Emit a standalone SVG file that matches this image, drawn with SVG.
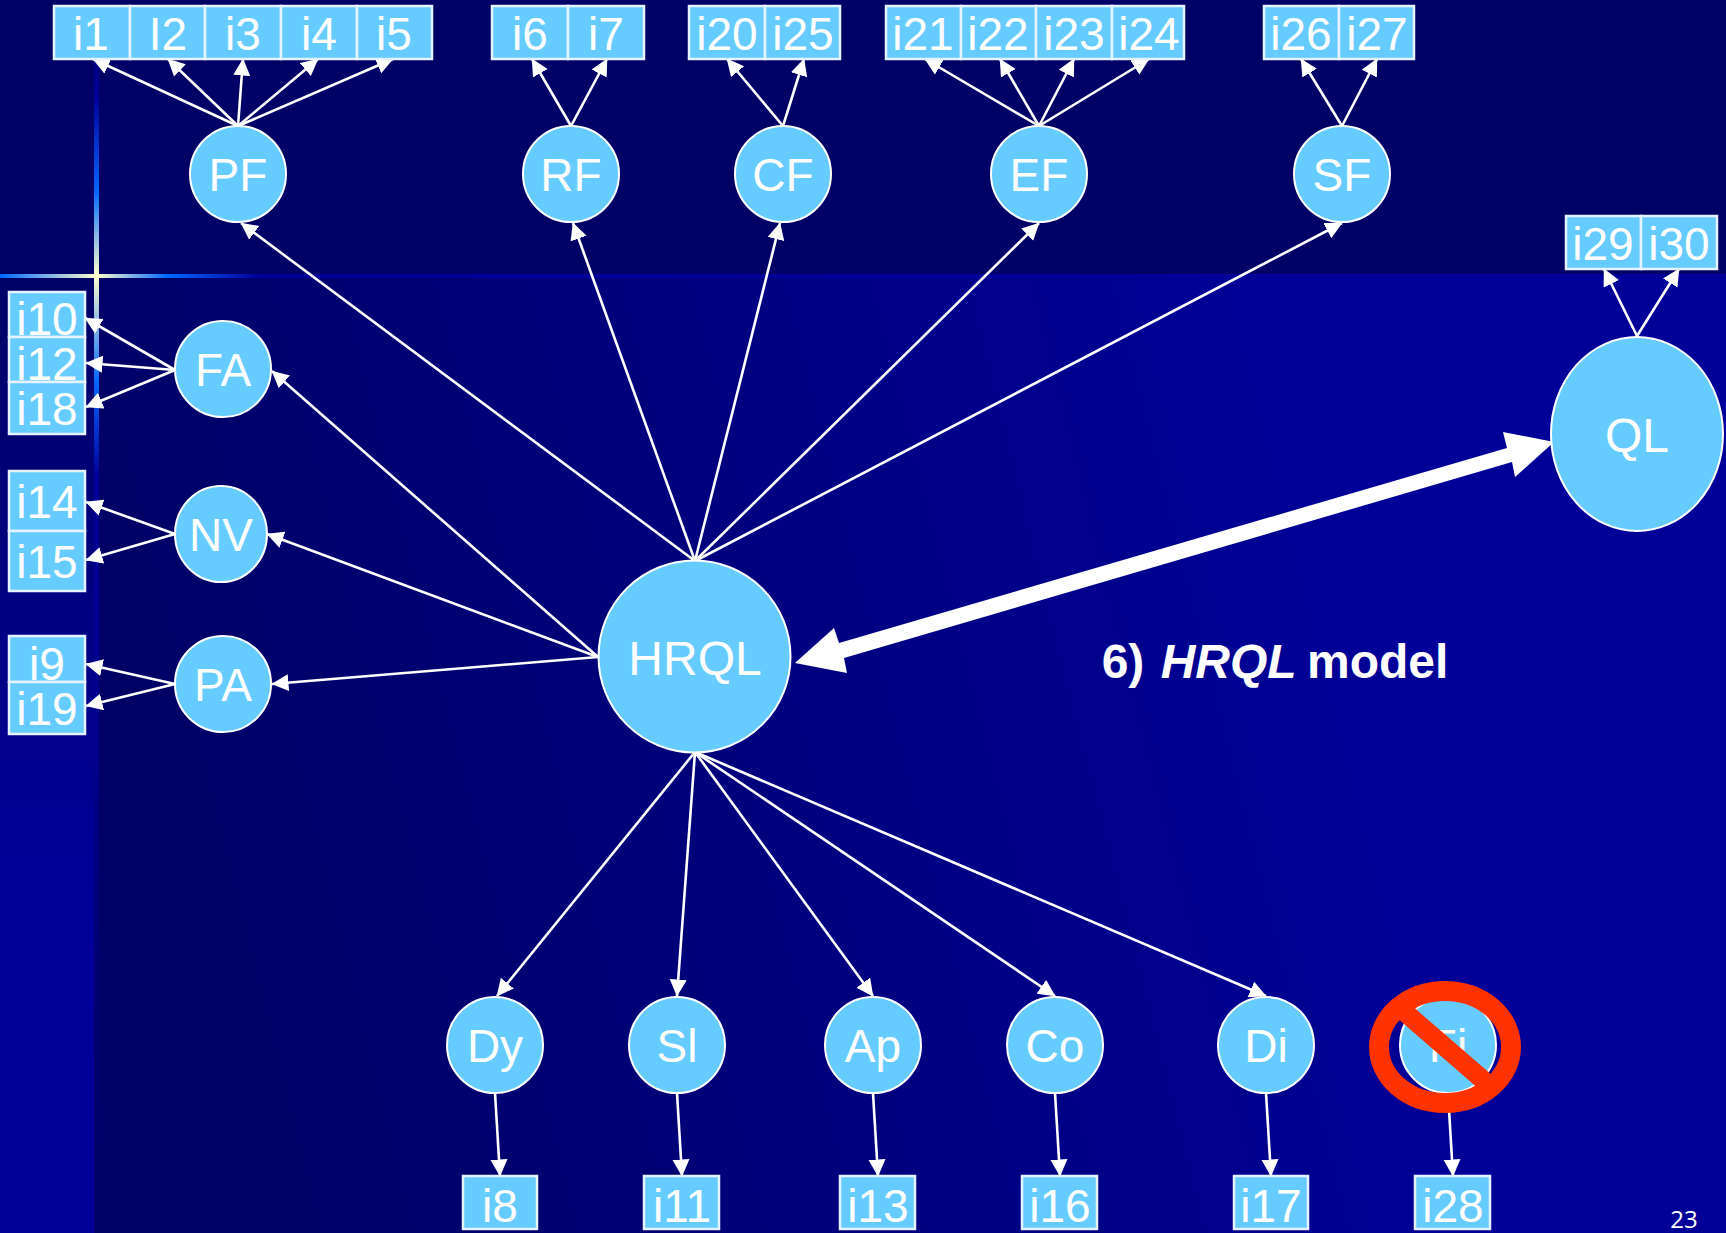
<svg xmlns="http://www.w3.org/2000/svg" width="1726" height="1233" viewBox="0 0 1726 1233">
<style>
.n{fill:#66ccff;stroke:#fff;stroke-width:2}
.b{fill:#66ccff;stroke:#e6f2ff;stroke-width:2.5}
text{font-family:"Liberation Sans",Arial,sans-serif;fill:#fff;text-anchor:middle}
.t{font-size:46px}
#connectors line{stroke:#fff;stroke-width:2.6;marker-end:url(#ah)}
</style>
<defs>
<marker id="ah" markerUnits="userSpaceOnUse" markerWidth="18" markerHeight="18" refX="16.5" refY="8.5" orient="auto"><path d="M0 0L17 8.5L0 17Z" fill="#fff"/></marker>
<linearGradient id="main" gradientUnits="userSpaceOnUse" x1="200" y1="900" x2="1400" y2="600"><stop offset="0" stop-color="#000066"/><stop offset="1" stop-color="#000099"/></linearGradient>
<linearGradient id="left" gradientUnits="userSpaceOnUse" x1="0" y1="278" x2="0" y2="900"><stop offset="0" stop-color="#000066"/><stop offset="1" stop-color="#000099"/></linearGradient>
<linearGradient id="vbar" gradientUnits="userSpaceOnUse" x1="0" y1="0" x2="0" y2="1233"><stop offset="0" stop-color="#000066"/><stop offset=".08" stop-color="#000099"/><stop offset=".155" stop-color="#0066ff"/><stop offset=".223" stop-color="#ffffcc"/><stop offset=".31" stop-color="#0066ff"/><stop offset=".385" stop-color="#000099"/><stop offset=".6" stop-color="#00008c"/><stop offset=".8" stop-color="#000070"/><stop offset="1" stop-color="#000066"/></linearGradient>
<linearGradient id="hbar" gradientUnits="userSpaceOnUse" x1="0" y1="0" x2="1726" y2="0"><stop offset="0" stop-color="#0066ff"/><stop offset=".056" stop-color="#ffffcc"/><stop offset=".097" stop-color="#0066ff"/><stop offset=".15" stop-color="#000099"/><stop offset="1" stop-color="#000099"/></linearGradient>
</defs>
<g id="background">
<rect x="0" y="0" width="1726" height="278" fill="#000066"/>
<rect x="0" y="278" width="94" height="955" fill="url(#left)"/>
<rect x="94" y="278" width="1632" height="955" fill="url(#main)"/>
<rect x="94" y="0" width="5" height="1233" fill="url(#vbar)"/>
<rect x="0" y="274" width="1726" height="4" fill="url(#hbar)"/>
</g>
<g id="connectors">
<line x1="238" y1="126" x2="93" y2="59"/><line x1="238" y1="126" x2="168" y2="59"/><line x1="238" y1="126" x2="243" y2="59"/><line x1="238" y1="126" x2="318" y2="59"/><line x1="238" y1="126" x2="393" y2="59"/>
<line x1="571" y1="126" x2="532" y2="59"/><line x1="571" y1="126" x2="607" y2="59"/>
<line x1="783" y1="126" x2="727" y2="59"/><line x1="783" y1="126" x2="804" y2="59"/>
<line x1="1039" y1="126" x2="925" y2="59"/><line x1="1039" y1="126" x2="1000" y2="59"/><line x1="1039" y1="126" x2="1074" y2="59"/><line x1="1039" y1="126" x2="1149" y2="59"/>
<line x1="1342" y1="126" x2="1301" y2="59"/><line x1="1342" y1="126" x2="1377" y2="59"/>
<line x1="1637" y1="336" x2="1604" y2="269"/><line x1="1637" y1="336" x2="1679" y2="269"/>
<line x1="175" y1="370" x2="85" y2="318"/><line x1="175" y1="370" x2="86" y2="363"/><line x1="175" y1="370" x2="86" y2="407"/>
<line x1="175" y1="534" x2="86" y2="502"/><line x1="175" y1="534" x2="86" y2="560"/>
<line x1="175" y1="684" x2="86" y2="664"/><line x1="175" y1="684" x2="86" y2="706"/>
<line x1="695" y1="561" x2="241" y2="223"/><line x1="695" y1="561" x2="573" y2="223"/><line x1="695" y1="561" x2="780" y2="223"/><line x1="695" y1="561" x2="1039" y2="223"/><line x1="695" y1="561" x2="1342" y2="223"/>
<line x1="598" y1="657" x2="272" y2="371"/><line x1="598" y1="657" x2="267" y2="534"/><line x1="598" y1="657" x2="272" y2="684"/>
<line x1="695" y1="752" x2="497" y2="996"/><line x1="695" y1="752" x2="677" y2="996"/><line x1="695" y1="752" x2="873" y2="996"/><line x1="695" y1="752" x2="1055" y2="996"/><line x1="695" y1="752" x2="1266" y2="996"/>
<line x1="495" y1="1093" x2="500" y2="1176"/><line x1="677" y1="1093" x2="682" y2="1176"/><line x1="873" y1="1093" x2="878" y2="1176"/><line x1="1055" y1="1093" x2="1060" y2="1176"/><line x1="1266" y1="1093" x2="1271" y2="1176"/><line x1="1448" y1="1093" x2="1453" y2="1176"/>
</g>
<g id="thick-arrow"><polygon fill="#fff" points="1554,442 1515,477 1512,462 844,658 847,673 795,663 834,628 839,643 1507,448 1503,432"/></g>
<g id="box-i1"><rect class="b" x="54" y="6" width="76" height="53"/><text class="t" x="91" y="50">i1</text></g>
<g id="box-I2"><rect class="b" x="130" y="6" width="75" height="53"/><text class="t" x="168" y="50">I2</text></g>
<g id="box-i3"><rect class="b" x="205" y="6" width="76" height="53"/><text class="t" x="243" y="50">i3</text></g>
<g id="box-i4"><rect class="b" x="281" y="6" width="76" height="53"/><text class="t" x="319" y="50">i4</text></g>
<g id="box-i5"><rect class="b" x="357" y="6" width="75" height="53"/><text class="t" x="394" y="50">i5</text></g>
<g id="box-i6"><rect class="b" x="492" y="6" width="76" height="53"/><text class="t" x="530" y="50">i6</text></g>
<g id="box-i7"><rect class="b" x="568" y="6" width="76" height="53"/><text class="t" x="606" y="50">i7</text></g>
<g id="box-i20"><rect class="b" x="689" y="6" width="76" height="53"/><text class="t" x="727" y="50">i20</text></g>
<g id="box-i25"><rect class="b" x="765" y="6" width="75" height="53"/><text class="t" x="803" y="50">i25</text></g>
<g id="box-i21"><rect class="b" x="886" y="6" width="75" height="53"/><text class="t" x="923" y="50">i21</text></g>
<g id="box-i22"><rect class="b" x="961" y="6" width="75" height="53"/><text class="t" x="998" y="50">i22</text></g>
<g id="box-i23"><rect class="b" x="1036" y="6" width="76" height="53"/><text class="t" x="1074" y="50">i23</text></g>
<g id="box-i24"><rect class="b" x="1112" y="6" width="72" height="53"/><text class="t" x="1149" y="50">i24</text></g>
<g id="box-i26"><rect class="b" x="1264" y="6" width="75" height="53"/><text class="t" x="1301" y="50">i26</text></g>
<g id="box-i27"><rect class="b" x="1339" y="6" width="75" height="53"/><text class="t" x="1377" y="50">i27</text></g>
<g id="box-i29"><rect class="b" x="1566" y="216" width="75" height="53"/><text class="t" x="1603" y="260">i29</text></g>
<g id="box-i30"><rect class="b" x="1641" y="216" width="76" height="53"/><text class="t" x="1679" y="260">i30</text></g>
<g id="box-i10"><rect class="b" x="9" y="292" width="76" height="45"/><text class="t" x="47" y="335">i10</text></g>
<g id="box-i12"><rect class="b" x="9" y="337" width="76" height="45"/><text class="t" x="47" y="380">i12</text></g>
<g id="box-i18"><rect class="b" x="9" y="382" width="76" height="52"/><text class="t" x="47" y="425">i18</text></g>
<g id="box-i14"><rect class="b" x="9" y="471" width="76" height="60"/><text class="t" x="47" y="518">i14</text></g>
<g id="box-i15"><rect class="b" x="9" y="531" width="76" height="60"/><text class="t" x="47" y="578">i15</text></g>
<g id="box-i9"><rect class="b" x="9" y="636" width="76" height="46"/><text class="t" x="47" y="680">i9</text></g>
<g id="box-i19"><rect class="b" x="9" y="682" width="76" height="52"/><text class="t" x="47" y="725">i19</text></g>
<g id="box-i8"><rect class="b" x="463" y="1176" width="74" height="53"/><text class="t" x="500" y="1222">i8</text></g>
<g id="box-i11"><rect class="b" x="644" y="1176" width="75" height="53"/><text class="t" x="682" y="1222">i11</text></g>
<g id="box-i13"><rect class="b" x="840" y="1176" width="75" height="53"/><text class="t" x="878" y="1222">i13</text></g>
<g id="box-i16"><rect class="b" x="1022" y="1176" width="75" height="53"/><text class="t" x="1060" y="1222">i16</text></g>
<g id="box-i17"><rect class="b" x="1234" y="1176" width="74" height="53"/><text class="t" x="1271" y="1222">i17</text></g>
<g id="box-i28"><rect class="b" x="1415" y="1176" width="75" height="53"/><text class="t" x="1453" y="1222">i28</text></g>
<g id="node-PF"><circle class="n" cx="238" cy="174" r="48"/><text class="t" x="238" y="191">PF</text></g>
<g id="node-RF"><circle class="n" cx="571" cy="174" r="48"/><text class="t" x="571" y="191">RF</text></g>
<g id="node-CF"><circle class="n" cx="783" cy="174" r="48"/><text class="t" x="783" y="191">CF</text></g>
<g id="node-EF"><circle class="n" cx="1039" cy="174" r="48"/><text class="t" x="1039" y="191">EF</text></g>
<g id="node-SF"><circle class="n" cx="1342" cy="174" r="48"/><text class="t" x="1342" y="191">SF</text></g>
<g id="node-FA"><circle class="n" cx="223" cy="369" r="48"/><text class="t" x="223" y="386">FA</text></g>
<g id="node-NV"><ellipse class="n" cx="221" cy="534" rx="46" ry="48"/><text class="t" x="221" y="551">NV</text></g>
<g id="node-PA"><circle class="n" cx="223" cy="684" r="48"/><text class="t" x="223" y="701">PA</text></g>
<g id="node-HRQL"><circle class="n" cx="694.5" cy="656.5" r="96"/><text x="695" y="675" font-size="48">HRQL</text></g>
<g id="node-QL"><ellipse class="n" cx="1637" cy="434" rx="86" ry="97"/><text x="1637" y="452" font-size="48">QL</text></g>
<g id="node-Dy"><circle class="n" cx="495" cy="1045" r="48"/><text class="t" x="495" y="1062">Dy</text></g>
<g id="node-Sl"><circle class="n" cx="677" cy="1045" r="48"/><text class="t" x="677" y="1062">Sl</text></g>
<g id="node-Ap"><circle class="n" cx="873" cy="1045" r="48"/><text class="t" x="873" y="1062">Ap</text></g>
<g id="node-Co"><circle class="n" cx="1055" cy="1045" r="48"/><text class="t" x="1055" y="1062">Co</text></g>
<g id="node-Di"><circle class="n" cx="1266" cy="1045" r="48"/><text class="t" x="1266" y="1062">Di</text></g>
<g id="node-Fi"><circle class="n" cx="1448" cy="1045" r="48"/><text class="t" x="1448" y="1062">Fi</text></g>
<g id="prohibit"><ellipse cx="1445" cy="1047" rx="66" ry="56" fill="none" stroke="#ff3300" stroke-width="20"/><line x1="1400" y1="1008" x2="1490" y2="1086" stroke="#ff3300" stroke-width="19"/></g>
<text id="title" x="1275" y="678" font-size="48" font-weight="bold">6) <tspan font-style="italic" dx="3">HRQL</tspan><tspan dx="-3"> model</tspan></text>
<text id="page" x="1684" y="1228" font-size="24" style="font-family:'Open Sans',sans-serif">23</text>
</svg>
